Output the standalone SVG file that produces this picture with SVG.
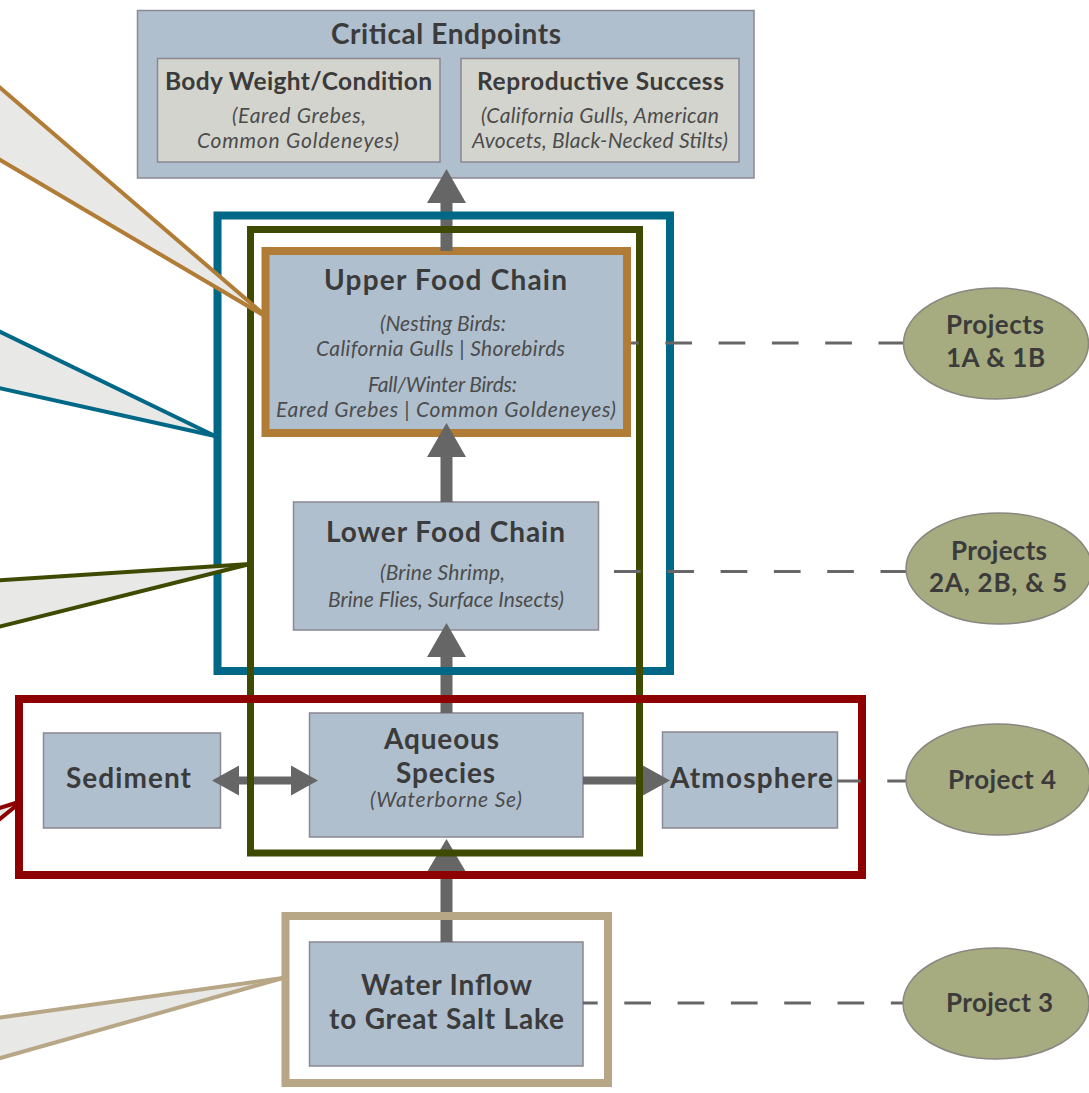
<svg xmlns="http://www.w3.org/2000/svg" width="1089" height="1093" viewBox="0 0 1089 1093">
<style>
.box{fill:#afbfce;stroke:#8c8792;stroke-width:1.5}
.sub{fill:#d3d4ce;stroke:#8c8792;stroke-width:1.5}
.ell{fill:#a7ac80;stroke:#8a8680;stroke-width:1.5}
.t{font-family:Lato,"Open Sans",sans-serif;font-weight:bold;fill:#3b3b3b;text-anchor:middle;font-size:28px}
.s{font-size:24.5px}
.p{font-size:26px}
.i{font-family:Lato,"Open Sans",sans-serif;font-style:italic;fill:#4c4c4c;text-anchor:middle;font-size:21px}
.arrow{fill:#666666}
.dash{fill:none;stroke:#666666;stroke-width:3;stroke-dasharray:26.7 26.6}
.wfill{fill:#e8e9e6;stroke:none}
.wline{fill:none;stroke-width:4;stroke-linecap:butt}
</style>

<!-- nodes -->
<g id="critical-endpoints">
<rect class="box" x="137.5" y="10.5" width="616.5" height="167.5"/>
<text class="t" x="446" y="44" textLength="230">Critical Endpoints</text>
</g>
<g id="body-weight">
<rect class="sub" x="157.5" y="58.5" width="282.5" height="103.5"/>
<text class="t s" x="298.5" y="90" textLength="267">Body Weight/Condition</text>
<text class="i" x="299" y="123" textLength="134">(Eared Grebes,</text>
<text class="i" x="298" y="148" textLength="202">Common Goldeneyes)</text>
</g>
<g id="reproductive-success">
<rect class="sub" x="461" y="58.5" width="278" height="103.5"/>
<text class="t s" x="600.5" y="90" textLength="247">Reproductive Success</text>
<text class="i" x="600" y="123" textLength="238">(California Gulls, American</text>
<text class="i" x="600" y="148" textLength="256">Avocets, Black-Necked Stilts)</text>
</g>
<g id="upper-food-chain">
<rect x="265.5" y="251" width="361.5" height="182" fill="#afbfce" stroke="#b07c36" stroke-width="8"/>
<text class="t" x="445.5" y="290" textLength="243">Upper Food Chain</text>
<text class="i" x="443" y="331" textLength="126">(Nesting Birds:</text>
<text class="i" x="440.5" y="356" textLength="249">California Gulls | Shorebirds</text>
<text class="i" x="442.5" y="392" textLength="149">Fall/Winter Birds:</text>
<text class="i" x="446" y="417" textLength="340">Eared Grebes | Common Goldeneyes)</text>
</g>
<g id="lower-food-chain">
<rect class="box" x="293.5" y="502" width="305" height="128"/>
<text class="t" x="445.5" y="542" textLength="239">Lower Food Chain</text>
<text class="i" x="442.5" y="580" textLength="125">(Brine Shrimp,</text>
<text class="i" x="446" y="607" textLength="236">Brine Flies, Surface Insects)</text>
</g>
<g id="aqueous-species">
<rect class="box" x="309.5" y="713" width="273.5" height="124"/>
<text class="t" x="441.5" y="749" textLength="115">Aqueous</text>
<text class="t" x="445.5" y="783" textLength="99">Species</text>
<text class="i" x="446" y="807" textLength="152">(Waterborne Se)</text>
</g>
<g id="sediment">
<rect class="box" x="43.5" y="733" width="177" height="95"/>
<text class="t" x="128.5" y="788" textLength="125">Sediment</text>
</g>
<g id="atmosphere">
<rect class="box" x="662.5" y="732" width="175" height="96"/>
<text class="t" x="751.5" y="788" textLength="163">Atmosphere</text>
</g>
<g id="water-inflow">
<rect class="box" x="309.5" y="942" width="273.5" height="124"/>
<text class="t" x="446.5" y="995" textLength="171">Water Inflow</text>
<text class="t" x="446.5" y="1029" textLength="235">to Great Salt Lake</text>
</g>

<!-- connectors -->
<g id="connectors">
<path id="inflow-to-aqueous" class="arrow" d="M440.5,942 V872 H427 L446.5,839 L466,872 H452.5 V942 Z"/>
<path id="aqueous-to-lower" class="arrow" d="M440.5,713 V657 H427 L446.5,623 L466,657 H452.5 V713 Z"/>
<path id="lower-to-upper" class="arrow" d="M440.5,502 V457 H427 L446.5,423 L466,457 H452.5 V502 Z"/>
<path id="upper-to-endpoints" class="arrow" d="M440.5,251 V203 H427 L446.5,169 L466,203 H452.5 V251 Z"/>
<path id="aqueous-to-atmosphere" class="arrow" d="M583,776.5 H642 V765 L670,780.5 L642,796 V784.5 H583 Z"/>
<path id="sediment-aqueous" class="arrow" d="M212,780.5 L239,765.5 V776.5 H291 V765.5 L318,780.5 L291,795.5 V784.5 H239 V795.5 Z"/>
</g>

<!-- project groupings -->
<g id="frames">
<rect id="frame-blue" x="217.5" y="215.5" width="452.5" height="455.5" fill="none" stroke="#006887" stroke-width="8"/>
<rect id="frame-green" x="250.5" y="229.5" width="389" height="623.5" fill="none" stroke="#3e4a00" stroke-width="7"/>
<rect id="frame-red" x="19" y="699" width="843" height="176" fill="none" stroke="#8e0000" stroke-width="8"/>
<rect id="frame-tan" x="285.5" y="916" width="322.5" height="167" fill="none" stroke="#b8a786" stroke-width="8"/>
</g>

<g id="project-links">
<line class="dash" x1="631" y1="343" x2="903" y2="343" stroke-dashoffset="19"/>
<line class="dash" x1="614" y1="571.5" x2="906" y2="571.5"/>
<line class="dash" x1="837" y1="781" x2="906" y2="781" stroke-dashoffset="3"/>
<line class="dash" x1="583" y1="1003" x2="903" y2="1003" stroke-dashoffset="12"/>
</g>

<g id="callouts">
<g id="callout-orange" stroke="#b07c36">
<polygon class="wfill" points="-10,79 268,318 -10,154"/>
<polyline class="wline" points="-10,79 268,318"/>
<polyline class="wline" points="-10,154 268,318"/>
</g>
<g id="callout-blue" stroke="#006887">
<polygon class="wfill" points="-10,327 215,436 -10,386"/>
<polyline class="wline" points="-10,327 215,436"/>
<polyline class="wline" points="-10,386 215,436"/>
</g>
<g id="callout-green" stroke="#3e4a00">
<polygon class="wfill" points="-10,581 250,564 -10,629"/>
<polyline class="wline" points="-10,581 250,564"/>
<polyline class="wline" points="-10,629 250,564"/>
</g>
<g id="callout-red" stroke="#8e0000">
<polygon class="wfill" points="-10,811 22,801 -10,827"/>
<polyline class="wline" points="-10,811 22,801"/>
<polyline class="wline" points="-10,827 22,801"/>
</g>
<g id="callout-tan" stroke="#b8a786">
<polygon class="wfill" points="-10,1019 283,978 -10,1061"/>
<polyline class="wline" points="-10,1019 283,978"/>
<polyline class="wline" points="-10,1061 283,978"/>
</g>
</g>

<g id="project-1">
<ellipse class="ell" cx="996" cy="343.5" rx="92.5" ry="55.5"/>
<text class="t p" x="995" y="334" textLength="98">Projects</text>
<text class="t p" x="995.5" y="367" textLength="99">1A &amp; 1B</text>
</g>
<g id="project-2">
<ellipse class="ell" cx="999" cy="568.5" rx="93" ry="55.5"/>
<text class="t p" x="999" y="560" textLength="96">Projects</text>
<text class="t p" x="998" y="592" textLength="138">2A, 2B, &amp; 5</text>
</g>
<g id="project-4">
<ellipse class="ell" cx="998" cy="779.5" rx="92" ry="55.5"/>
<text class="t p" x="1002" y="789" textLength="108">Project 4</text>
</g>
<g id="project-3">
<ellipse class="ell" cx="996" cy="1003.5" rx="93" ry="55.5"/>
<text class="t p" x="999.5" y="1012" textLength="107">Project 3</text>
</g>
</svg>
